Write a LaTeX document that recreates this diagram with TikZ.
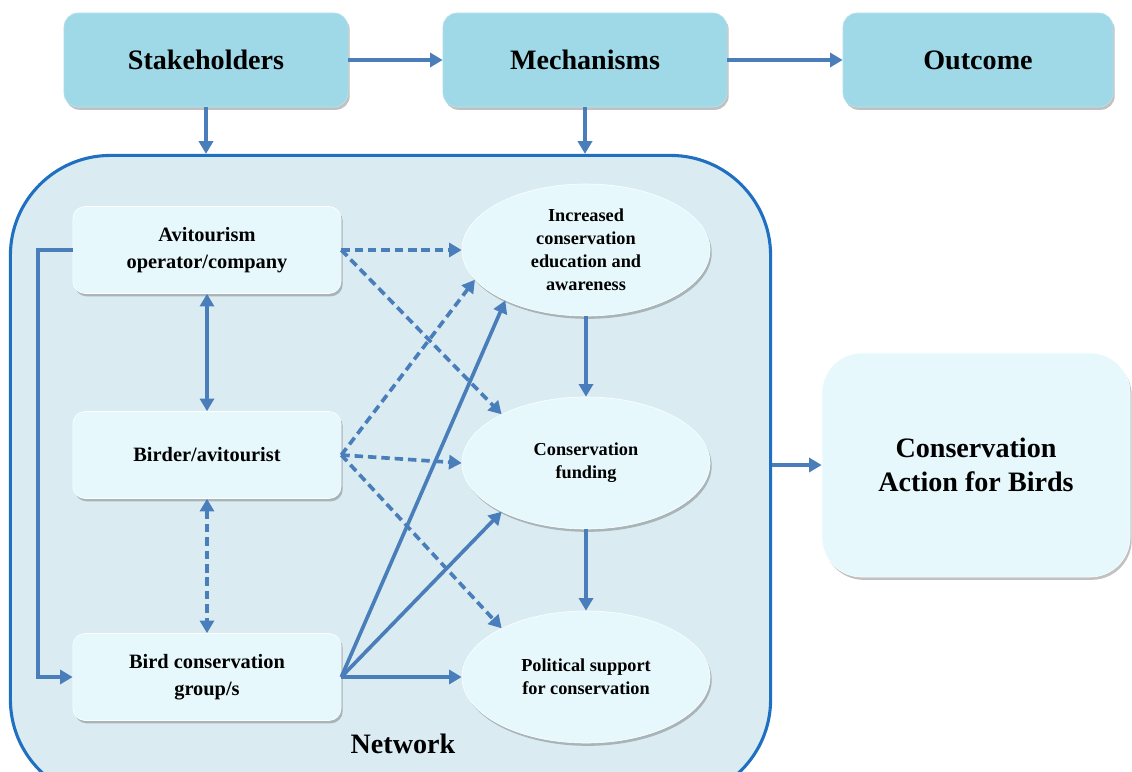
\documentclass[tikz,border=0pt]{standalone}
\usepackage{fontspec}
\setmainfont{Liberation Serif}
\usepackage{tikz}
\usetikzlibrary{shapes.geometric,shadows,arrows.meta}

\definecolor{topfill}{HTML}{9FD9E8}
\definecolor{boxfill}{HTML}{E6F8FC}
\definecolor{netfill}{HTML}{DAECF2}
\definecolor{netline}{HTML}{1F70C1}
\definecolor{linkblue}{HTML}{4A7EBB}

\begin{document}
\begin{tikzpicture}[x=0.025cm,y=-0.025cm,
    boxshadow/.style={drop shadow={shadow xshift=1.2pt,shadow yshift=-2pt,opacity=0.35,fill=black!70}},
    headbox/.style={draw=topfill!70!white,fill=topfill,rounded corners=0.35cm,minimum height=2.35cm,font=\bfseries\fontsize{20}{24}\selectfont,boxshadow},
    actorbox/.style={draw=white,fill=boxfill,rounded corners=0.3cm,minimum width=6.7cm,minimum height=2.175cm,align=center,font=\bfseries\fontsize{14.5}{19}\selectfont,boxshadow},
    effect/.style={ellipse,draw=white,fill=boxfill,minimum width=6.2cm,minimum height=3.3cm,inner sep=0pt,align=center,font=\bfseries\fontsize{13}{16.3}\selectfont,boxshadow},
    link/.style={draw=linkblue,line width=2.6pt,-{Triangle[length=9pt,width=10pt]}},
    twoway/.style={link,{Triangle[length=9pt,width=10pt]}-{Triangle[length=9pt,width=10pt]}},
    weak/.style={link,dash pattern=on 6pt off 3.5pt}]
    \useasboundingbox (0,0) rectangle (1132,771);
    \clip (0,0) rectangle (1132,771);

    %%% TOP ROW %%%
    \node[headbox,minimum width=7.1cm] (stake) at (206,60) {Stakeholders};
    \node[headbox,minimum width=7.1cm] (mech) at (585,60) {Mechanisms};
    \node[headbox,minimum width=6.75cm] (outc) at (978,60) {Outcome};

    %%% NETWORK %%%
    \node[draw=netline,line width=2.2pt,fill=netfill,rounded corners=2.5cm,minimum width=19cm,minimum height=16.1cm] (net) at (390.5,477.5) {};
    \node[font=\bfseries\fontsize{20}{24}\selectfont] (netlabel) at (403,744) {Network};

    %%% STAKEHOLDERS %%%
    \node[actorbox] (avit) at (207,250) {Avitourism\\operator/company};
    \node[actorbox] (birder) at (207,455) {Birder/avitourist};
    \node[actorbox] (group) at (207,677) {Bird conservation\\group/s};

    %%% MECHANISMS %%%
    \node[effect] (educ) at (586,250) {Increased\\conservation\\education and\\awareness};
    \node[effect] (fund) at (586,463) {Conservation\\funding};
    \node[effect] (polit) at (586,677) {Political support\\for conservation};

    %%% OUTCOME %%%
    \node[draw=white,fill=boxfill,rounded corners=1cm,minimum width=7.7cm,minimum height=5.6cm,align=center,font=\bfseries\fontsize{20}{24}\selectfont,boxshadow] (action) at (976,465) {Conservation\\Action for Birds};

    %%% ARROWS %%%
    \draw[link] (stake.east) -- (mech.west);
    \draw[link] (mech.east) -- (outc.west);
    \draw[link] (stake.south) -- (stake.south |- net.north);
    \draw[link] (mech.south) -- (mech.south |- net.north);
    \draw[link] (net.east |- action.west) -- (action.west);

    \draw[link] (avit.west) -- ++(-35,0) |- (group.west);
    \draw[twoway] (avit.south) -- (birder.north);
    \draw[twoway,dash pattern=on 6pt off 3.5pt] (birder.south) -- (group.north);

    \draw[weak] (avit.east) -- (educ.west);
    \draw[weak] (avit.east) -- (fund.150);
    \draw[weak] (birder.east) -- (educ.195);
    \draw[weak] (birder.east) -- (fund.west);
    \draw[weak] (birder.east) -- (polit.150);
    \draw[link] (group.east) -- (educ.212);
    \draw[link] (group.east) -- (fund.210);
    \draw[link] (group.east) -- (polit.west);

    \draw[link] (educ.south) -- (fund.north);
    \draw[link] (fund.south) -- (polit.north);
\end{tikzpicture}
\end{document}
